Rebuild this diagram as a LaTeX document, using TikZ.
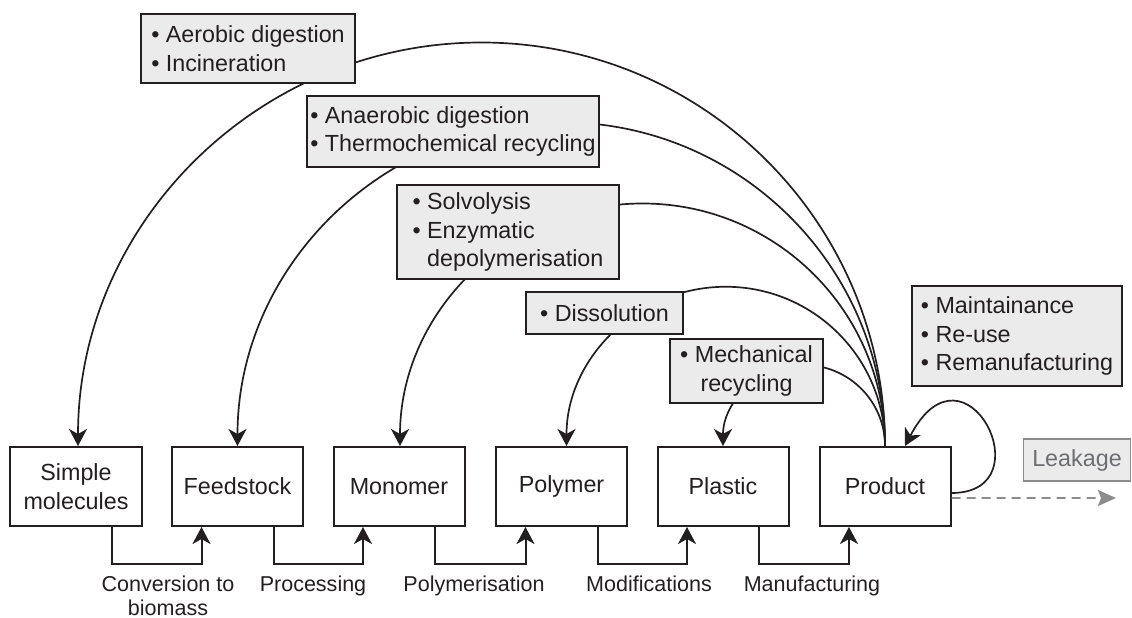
\documentclass[tikz,border=0pt]{standalone}
\usepackage{fontspec}
\setmainfont{Liberation Sans}
\usetikzlibrary{arrows.meta,calc}
\definecolor{ink}{HTML}{231F20}
\definecolor{boxgray}{HTML}{EBEBEB}
\definecolor{leakgray}{HTML}{8C8C8C}
\definecolor{leaktext}{HTML}{6D6E71}
\begin{document}
\begin{tikzpicture}[x=1bp,y=-1bp,
  every node/.style={font=\fontsize{23.4}{28.6}\selectfont, text=ink},
  stage/.style={draw=ink, line width=2bp, fill=white, minimum width=131bp, minimum height=79bp, inner sep=2bp, align=center},
  option/.style={draw=ink, line width=1.9bp, fill=boxgray, inner sep=2bp, align=left},
  arr/.style={draw=ink, line width=1.7bp, -{Stealth[length=17bp,width=18bp,inset=5bp]}},
  proc/.style={font=\fontsize{21.6}{24}\selectfont, anchor=north, inner sep=0pt, align=center}
]
\useasboundingbox (0,0) rectangle (1132,618);

% stages
\node[stage] (simple)  at (76,486.5)  {Simple\\molecules};
\node[stage] (feed)    at (237.5,486.5) {Feedstock};
\node[stage] (mono)    at (399,486.5) {Monomer};
\node[stage] (poly)    at (561.5,486.5) {Polymer};
\node[stage] (plastic) at (723,486.5) {Plastic};
\node[stage] (product) at (885,486.5) {Product};

% recovery arcs (semicircles from product to each stage)
\foreach \t/\dx in {simple/2, feed/0, mono/1, poly/5, plastic/0} {
  \draw[arr] let \p1=(product.north), \p2=([xshift=\dx bp]\t.north) in
    (\p1) arc[start angle=0, end angle=180, radius={(\x1-\x2)/2}];
}

% option boxes on the arcs
\node[option, minimum width=214bp, minimum height=69bp] (b1) at (248,48.5)
  {• Aerobic digestion\\• Incineration};
\node[option, minimum width=292bp, minimum height=71bp] (b2) at (453,131.5)
  {• Anaerobic digestion\\• Thermochemical recycling};
\node[option, minimum width=222bp, minimum height=94bp] (b3) at (508,232)
  {• Solvolysis\\• Enzymatic\\\phantom{• }depolymerisation};
\node[option, minimum width=157bp, minimum height=42bp] (b4) at (604.5,313)
  {• Dissolution};
\node[option, minimum width=153bp, minimum height=64bp, align=center] (b5) at (746.5,371)
  {• Mechanical\\recycling};
\node[option, minimum width=210bp, minimum height=100bp] (b6) at (1017,336)
  {• Maintainance\\• Re-use\\• Remanufacturing};

% self loop
\draw[arr] ([yshift=-6.5bp]product.east) .. controls +(95,0) and +(60,-115) .. ([xshift=20bp]product.north);

% leakage
\node[draw=leakgray, fill=boxgray, line width=1.6bp, text=leaktext, minimum width=107bp, minimum height=42bp, inner sep=2bp] (leak) at (1077,460) {Leakage};
\coordinate (leakend) at (1116,498);
\draw[leakgray, line width=1.8bp, dash pattern=on 9bp off 6bp, -{Stealth[length=18bp,width=16bp,inset=3bp]}]
  ([yshift=-11.5bp]product.east) -- (leakend);

% forward process connectors
\foreach \a/\b in {simple/feed, feed/mono, mono/poly, poly/plastic, plastic/product} {
  \draw[arr, line width=2bp] ([xshift=36bp]\a.south) -- ++(0,37) -| ([xshift=-36bp]\b.south);
}

% process labels
\node[proc] (l1) at (168,576) {Conversion to\\biomass};
\node[proc] (l2) at (313,576) {Processing};
\node[proc] (l3) at (474,576) {Polymerisation};
\node[proc] (l4) at (649,576) {Modifications};
\node[proc] (l5) at (812,576) {Manufacturing};
\end{tikzpicture}
\end{document}
